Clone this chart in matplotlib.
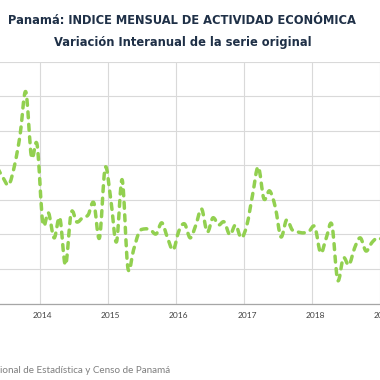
import matplotlib
matplotlib.use("Agg")
import matplotlib.pyplot as plt
from matplotlib.path import Path
from matplotlib.patches import PathPatch

title = "Panamá: INDICE MENSUAL DE ACTIVIDAD ECONÓMICA"
subtitle = "Variación Interanual de la serie original"
source = "Fuente: Instituto Nacional de Estadística y Censo de Panamá"

year_labels = ["2014", "2015", "2016", "2017", "2018", "2019"]
# variacion interanual mensual (%), may 2013 - ene 2019
variacion = [
    7.86, 7.28, 6.87, 7.97, 9.77, 12.26, 8.49, 9.19,          # 2013 may-dic
    4.67, 5.25, 3.80, 4.96, 2.23, 5.25, 4.72, 4.96, 5.13, 5.83, 3.80, 7.86,   # 2014
    6.00, 3.57, 7.16, 2.07, 3.10, 4.14, 4.32, 4.26, 4.03, 4.67, 3.80, 3.10,   # 2015
    4.20, 4.61, 3.80, 4.55, 5.48, 4.14, 4.96, 4.55, 4.72, 3.97, 4.55, 3.80,   # 2016
    4.55, 6.29, 7.91, 6.06, 6.52, 5.59, 3.86, 4.84, 4.26, 4.14, 4.09, 4.20,   # 2017
    4.43, 2.93, 3.80, 4.55, 1.36, 2.64, 2.23, 3.22, 3.80, 3.04, 3.51, 3.80,   # 2018
    3.68,                                                       # 2019 ene
]
jan_2014 = 8  # posicion de enero 2014 en la lista

fig = plt.figure(figsize=(3.8, 3.8), dpi=100)
ax = fig.add_axes([-0.0142, 0.2013, 1.0295, 0.6363])

# linea suavizada como en excel (bezier por los puntos mensuales)
x = list(range(len(variacion)))
pts = list(zip(x, variacion))
verts = [pts[0]]
codes = [Path.MOVETO]
for i in range(len(pts) - 1):
    p0 = pts[max(i - 1, 0)]
    p1 = pts[i]
    p2 = pts[i + 1]
    p3 = pts[min(i + 2, len(pts) - 1)]
    c1 = (p1[0] + (p2[0] - p0[0]) / 6, p1[1] + (p2[1] - p0[1]) / 6)
    c2 = (p2[0] - (p3[0] - p1[0]) / 6, p2[1] - (p3[1] - p1[1]) / 6)
    verts += [c1, c2, p2]
    codes += [Path.CURVE4] * 3
line = PathPatch(Path(verts, codes), facecolor="none", edgecolor="#92D050",
                 lw=2.5, linestyle=(0, (1.7, 1.9)), capstyle="round",
                 joinstyle="round", zorder=3, transform=ax.transData)
ax.add_patch(line)

ax.set_xlim(-0.5, len(variacion) - 0.5)
ax.set_ylim(0, 14)
ax.set_yticks(range(0, 15, 2))
ax.set_yticklabels([])

bounds = [jan_2014 - 0.5 + 12 * k for k in range(len(year_labels))]
ax.set_xticks(bounds, minor=True)
ax.set_xticks([jan_2014 + 12 * k for k in range(len(year_labels))])
ax.set_xticklabels(year_labels, fontsize=6, color="#404040", family="Lato")
ax.tick_params(axis="x", which="both", length=0, pad=6)
ax.tick_params(axis="y", length=0)

ax.grid(axis="y", color="#D9D9D9", lw=0.8)
ax.grid(axis="x", which="minor", color="#D9D9D9", lw=0.8)
ax.set_axisbelow(True)
for side in ["left", "right", "top"]:
    ax.spines[side].set_visible(False)
ax.spines["bottom"].set_color("#A6A6A6")
ax.spines["bottom"].set_linewidth(0.9)

fig.text(0.48, 0.947, title, ha="center", va="center", fontsize=8.3,
         fontweight="bold", color="#1F3047")
fig.text(0.48, 0.888, subtitle, ha="center", va="center", fontsize=8.3,
         fontweight="bold", color="#1F3047")
fig.text(0.447, 0.026, source, ha="right", va="center", fontsize=7.1,
         color="#7F7F7F", family="Lato")

fig.savefig("out.png", dpi=100, facecolor="white")
